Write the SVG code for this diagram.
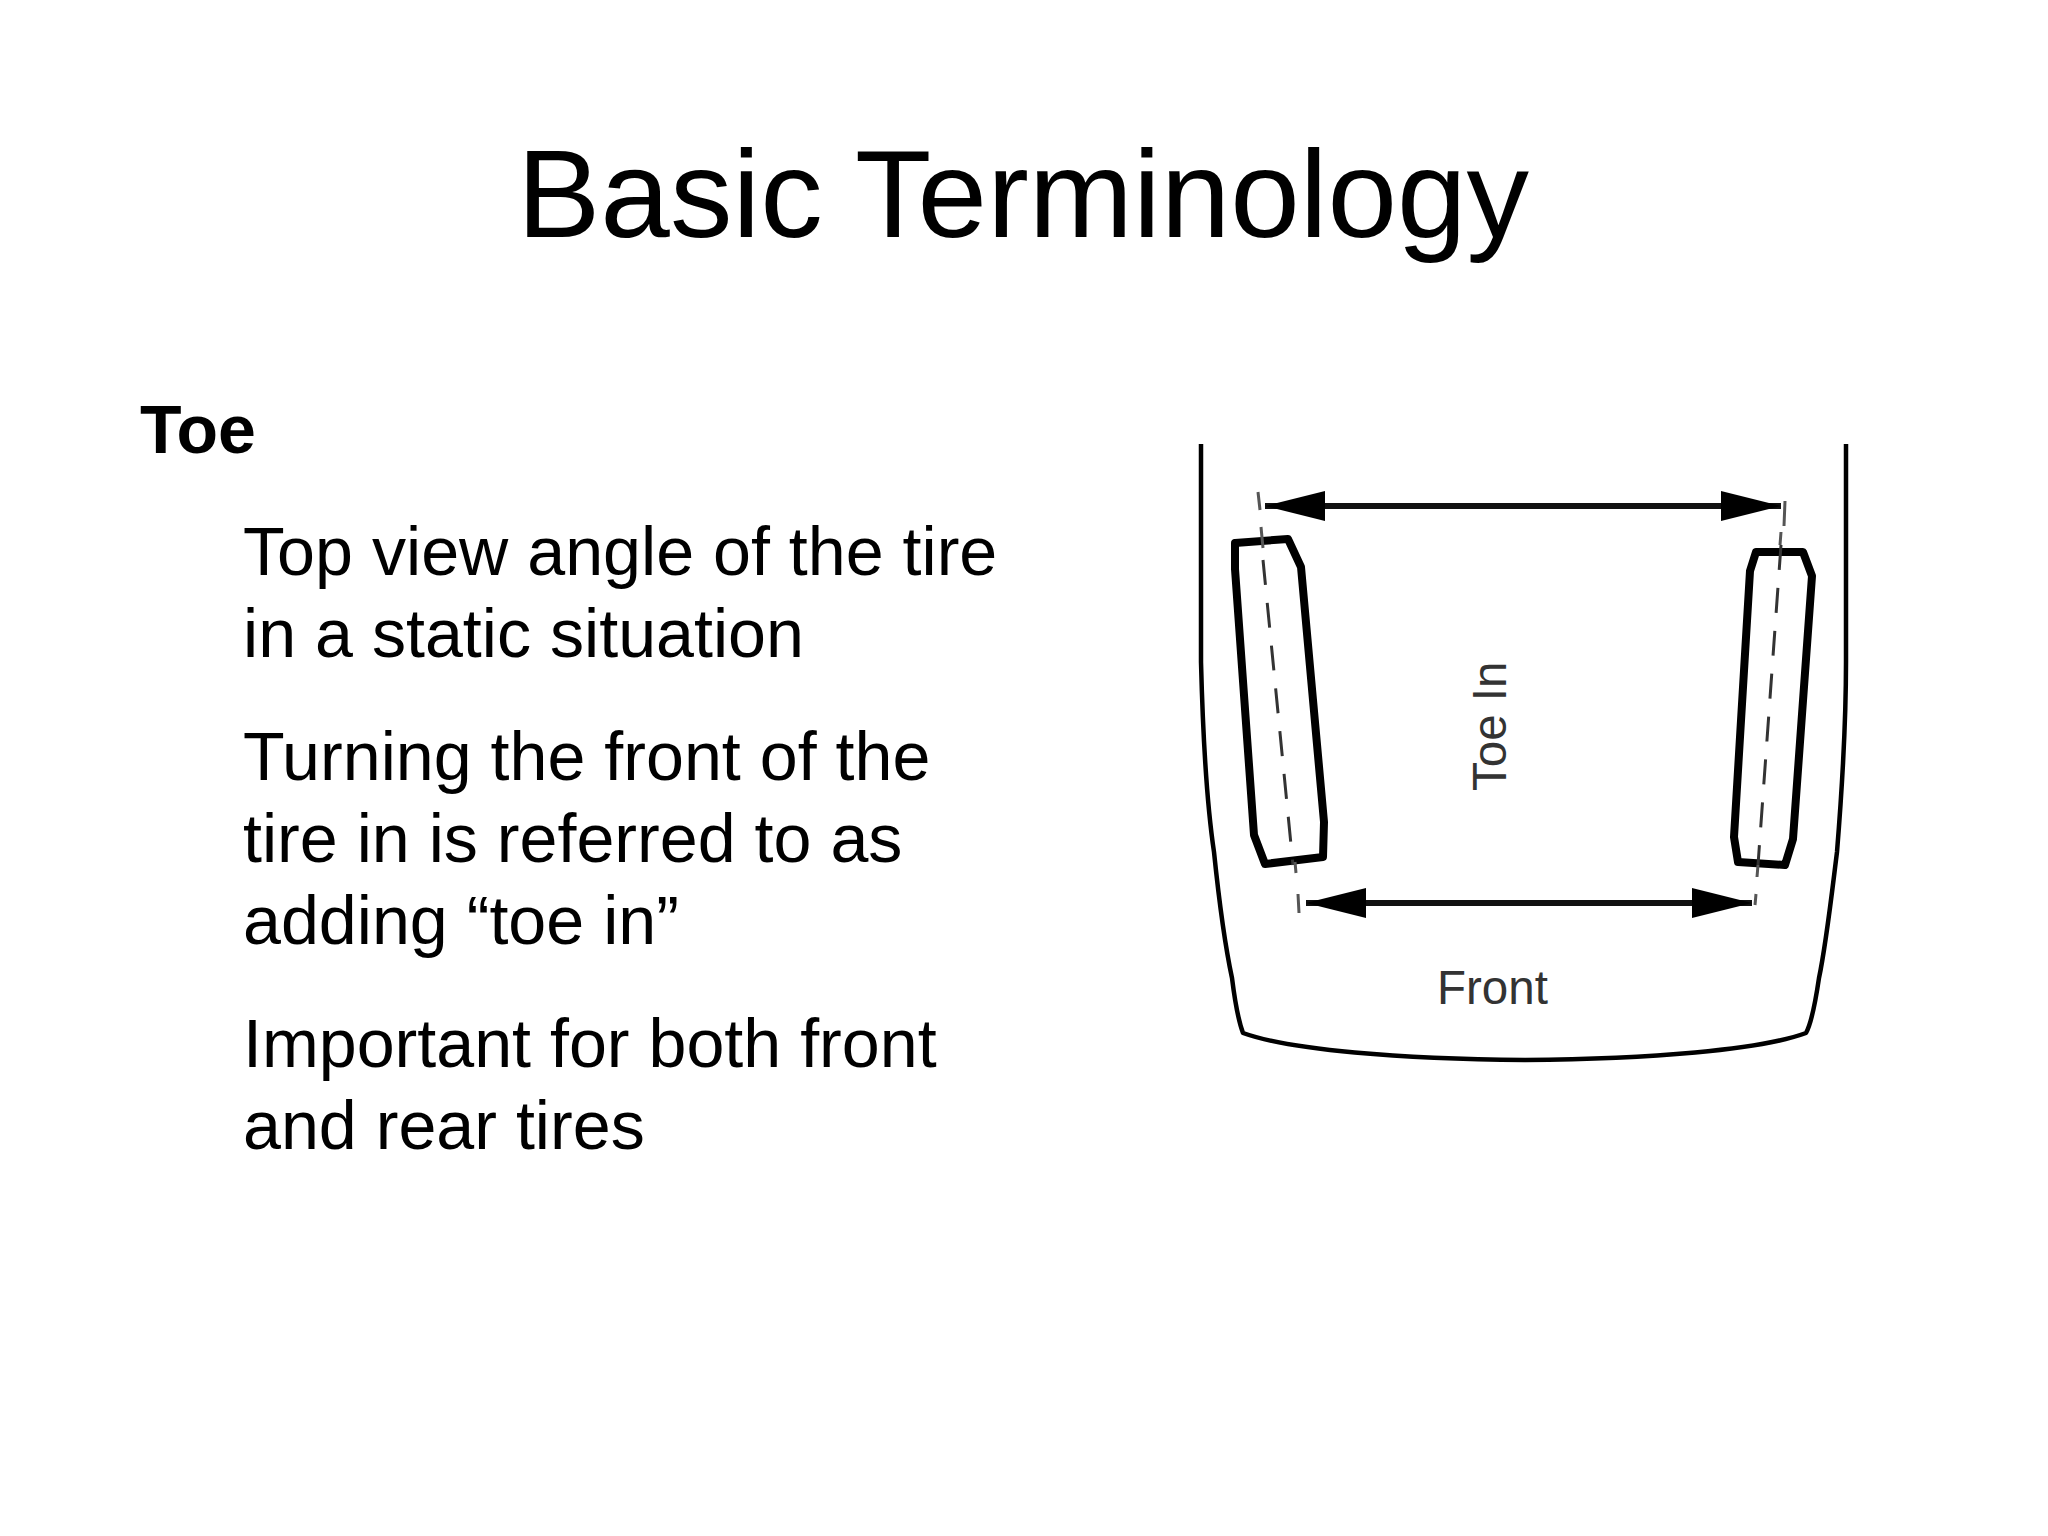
<svg xmlns="http://www.w3.org/2000/svg" width="2048" height="1536" viewBox="0 0 2048 1536">
<style>
text{font-family:"Liberation Sans",Arial,sans-serif;fill:#000}
.title{font-size:125px}
.head{font-size:68px;font-weight:bold}
.body{font-size:68.2px}
.lab{font-size:47.5px;fill:#333}
.body2{fill:none;stroke:#000;stroke-width:4.5;stroke-linejoin:round}
.tire{fill:none;stroke:#000;stroke-width:8;stroke-linejoin:round}
.center{fill:none;stroke:#333;stroke-width:3;stroke-dasharray:25 18}
.tick{fill:none;stroke:#555;stroke-width:3}
.dim{fill:none;stroke:#111;stroke-width:6;marker-start:url(#ah);marker-end:url(#ah)}
</style>
<defs>
<marker id="ah" markerUnits="userSpaceOnUse" viewBox="0 0 60 30" refX="60" refY="15" markerWidth="60" markerHeight="30" orient="auto-start-reverse"><path d="M0 0L60 15L0 30Z" fill="#000"/></marker>
</defs>
<rect width="2048" height="1536" fill="#fff"/>
<g id="title"><text class="title" x="1023" y="237" text-anchor="middle">Basic Terminology</text></g>
<g id="text">
<text class="head" x="140" y="453">Toe</text>
<text class="body" x="243" y="575">Top view angle of the tire</text>
<text class="body" x="243" y="657">in a static situation</text>
<text class="body" x="243" y="780">Turning the front of the</text>
<text class="body" x="243" y="862">tire in is referred to as</text>
<text class="body" x="243" y="944">adding “toe in”</text>
<text class="body" x="243" y="1067">Important for both front</text>
<text class="body" x="243" y="1149">and rear tires</text>
</g>
<g id="car-body"><path class="body2" d="M1201 444V662C1203 740 1207 805 1214 852C1220 910 1226 950 1232 978C1236 1010 1240 1025 1243 1033C1290 1050 1400 1059 1525 1060C1650 1059 1760 1050 1806 1033C1811 1024 1815 1005 1819 978C1826 945 1831 900 1837 852C1842 790 1846 730 1846 662V444"/></g>
<g id="tire-left"><path class="tire" d="M1235 543L1288 539L1301 567L1324 822L1323 857L1265 864L1254 835L1235 569Z"/><path class="center" d="M1263 560L1293 865"/></g>
<g id="tire-right"><path class="tire" d="M1756 552L1803 552L1812 576L1793 839L1785 865L1738 862L1734 837L1750 571Z"/><path class="center" d="M1781 545L1758 865"/></g>
<g id="connectors">
<path class="tick" d="M1258 492L1260 510M1261 527L1263 548M1295 862L1296 873M1298 894L1299 913M1785 501L1784 526M1781 532L1780 545M1758 865L1757 877M1756 894L1755 905"/>
<path class="dim" d="M1265 506H1781"/>
<path class="dim" d="M1306 903H1752"/>
</g>
<g id="labels">
<text class="lab" x="1437" y="1004">Front</text>
<text class="lab" transform="translate(1506 791) rotate(-90)">Toe In</text>
</g>
</svg>
